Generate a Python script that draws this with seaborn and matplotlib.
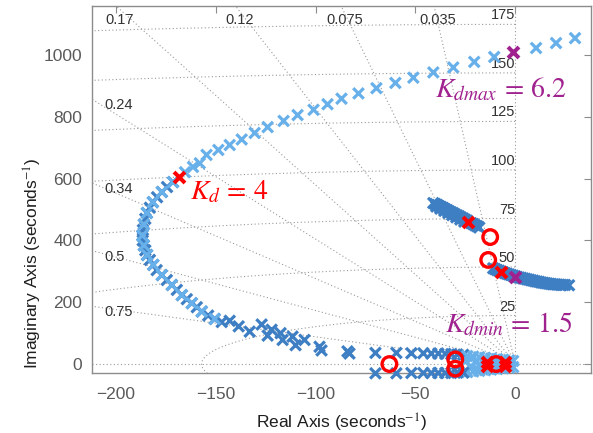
import numpy as np
import pandas as pd
import matplotlib
matplotlib.use("Agg")
import matplotlib.pyplot as plt
import seaborn as sns

# ---- root locus poles (real, imaginary) in seconds^-1 ----
# upper branch sweeping up to the right
arc_re = [30, 20.5, 10.5, -10.5, -20.5, -31, -41, -51, -60, -69.5, -78.5, -87, -94,
          -101, -109, -116, -124, -130.5, -137, -143, -148.7, -154.6, -158, -161.4, -165.4]
arc_im = [1055, 1039, 1023, 994, 978, 960, 944, 927, 910, 893, 876, 859, 841,
          823, 806, 787, 767, 748, 727, 709, 693, 677, 650, 638, 621]

# bend of the branch on the left
bend_re = [-171.4, -174.4, -177, -179.4, -181.5, -183, -184.5, -185.3, -186, -186.5, -186.8,
           -186.6, -186, -185.3, -184.4, -183, -181.3, -179.6, -177, -174.5, -172, -169.5,
           -167, -164.5, -162, -159.5, -157, -153.8, -150.5, -147]
bend_im = [589, 573, 557, 540, 524, 506, 489, 470, 452, 434, 416,
           400, 384, 368, 353, 337, 321, 304, 288, 272, 256, 240,
           223, 210, 197, 184, 170, 157, 146, 136]

# tail approaching the real axis
tail_re = [-143, -138.5, -133, -127, -122, -117.5, -124, -116.5, -111.5, -110, -105.5,
           -98, -97, -84, -83, -70, -59.5, -52, -46, -42, -38.5, -35, -32, -29, -26]
tail_im = [140, 122, 105, 128, 111, 100, 92, 78, 89, 61, 78,
           56, 44, 41, 34, 36, 36, 35, 35, 34, 34, 33, 32, 31, 30]

# conjugate poles just below the real axis
low_re = [-70, -59.5, -52, -46, -42, -38.5, -35, -32, -29, -26]
low_im = [-30, -30, -29, -29, -29, -29, -29, -29, -28, -28]

# dense cloud of poles hugging the real axis
band_re = [-24, -21, -18, -15, -12, -9, -6, -3, -1, -25, -20, -16, -11, -7, -3,
           -24, -21, -18, -15, -12, -9, -6, -3, -1, -22, -17, -13, -8, -4]
band_im = [26, 24, 22, 20, 18, 16, 14, 12, 10, 8, 7, 6, 5, 4, 3,
           -26, -24, -22, -20, -18, -16, -14, -12, -10, -8, -7, -6, -5, -4]

# short branch near 80 Hz
mid_re = [-41, -40, -39, -38, -37, -36, -35, -34, -33, -32, -31, -30, -29, -28, -27, -26,
          -25, -24, -22, -21, -20, -19, -18, -39.5, -37.5, -35.5, -33.5, -31.5, -29.5,
          -27.5, -25.5]
mid_im = [521, 518, 515, 511, 508, 505, 501, 498, 494, 491, 488, 484, 481, 478, 474, 471,
          467, 464, 456, 453, 449, 446, 442, 510, 503, 496, 489, 482, 475,
          468, 461]

# branch crossing the imaginary axis near 45 Hz
cross_re = [-11, -10, -9, -8, -7, -6, -5, -4, -3, -2, -1, 0, 1, 2, 3, 4, 5, 6, 7, 8, 9, 10,
            11, 12, 13, 14, 15, 16, 17, 18, 19, 20, 21, 22, 23, 24, 25, 27]
cross_im = [310, 307, 304, 302, 299, 297, 294, 292, 290, 288, 286, 284, 282, 280, 279, 277,
            276, 274, 273, 271, 270, 268, 267, 266, 264, 263, 262, 261, 260, 259, 258, 258,
            257, 257, 256, 256, 256, 255]

# highlighted poles and zeros
red_x_re = [-168.4, -23.6, -7, -14, -14, -5, -5]
red_x_im = [607, 460, 298, 6, -6, 6, -6]
purple_x_re = [-1, 0]
purple_x_im = [1010, 282]
zero_re = [-12.5, -13.5, -63, -30, -30, -9.5]
zero_im = [411, 337, 0, 15, -15, 0]

# s-plane grid: damping ratios and natural frequencies (Hz)
zetas = [0.035, 0.075, 0.12, 0.17, 0.24, 0.34, 0.5, 0.75]
zeta_labels = ["0.035", "0.075", "0.12", "0.17", "0.24", "0.34", "0.5", "0.75"]
freqs_hz = [25, 50, 75, 100, 125, 150, 175]

LIGHT = "#68B0EA"
DARK = "#3E7FC4"
RED = "#FF0000"
PURPLE = "#A0228F"

sns.set_style("white")
plt.rcParams["font.family"] = ["Liberation Sans", "DejaVu Sans"]
plt.rcParams["mathtext.fontset"] = "stix"

xlim = (-212, 38)
ylim = (-29, 1159)

fig = plt.figure(figsize=(5.93, 4.33), dpi=100)
ax = fig.add_axes([92 / 593, 60 / 433, 499 / 593, 367 / 433])
ax.set_xlim(*xlim)
ax.set_ylim(*ylim)

grid_kw = dict(color="#9a9a9a", lw=0.8, ls=(0, (1, 2.2)), zorder=1)

# damping-ratio rays (upper and lower half plane)
for z in zetas:
    ang = np.arccos(z)
    r = 3000
    ax.plot([0, -r * np.cos(ang)], [0, r * np.sin(ang)], **grid_kw)
    ax.plot([0, -r * np.cos(ang)], [0, -r * np.sin(ang)], **grid_kw)
# natural-frequency arcs
th = np.linspace(np.pi / 2, 3 * np.pi / 2, 2000)
for f in freqs_hz:
    wn = 2 * np.pi * f
    ax.plot(wn * np.cos(th), wn * np.sin(th), **grid_kw)
ax.axhline(0, **grid_kw)
ax.axvline(0, **grid_kw)

# grid labels
lab_kw = dict(fontsize=10.5, color="#333333", zorder=2)
for z, lab in zip(zetas, zeta_labels):
    slope = np.tan(np.arccos(z))
    if -ylim[1] / slope > xlim[0] + 8:
        ax.text(-ylim[1] / slope + 2, 1113, lab, ha="center", va="center", **lab_kw)
    else:
        ax.text(-206, -xlim[0] * slope - 20, lab, ha="left", va="center", **lab_kw)
for f in freqs_hz:
    ax.text(0, 2 * np.pi * f + 29, str(f), ha="right", va="center", **lab_kw)

# locus points
pts = pd.concat([
    pd.DataFrame({"re": arc_re, "im": arc_im, "shade": "light"}),
    pd.DataFrame({"re": bend_re, "im": bend_im, "shade": "dark"}),
    pd.DataFrame({"re": bend_re[::2], "im": bend_im[::2], "shade": "light"}),
    pd.DataFrame({"re": tail_re, "im": tail_im, "shade": "dark"}),
    pd.DataFrame({"re": band_re, "im": band_im, "shade": "light"}),
    pd.DataFrame({"re": low_re, "im": low_im, "shade": "dark"}),
    pd.DataFrame({"re": mid_re, "im": mid_im, "shade": "dark"}),
    pd.DataFrame({"re": cross_re, "im": cross_im, "shade": "dark"}),
], ignore_index=True)

sns.scatterplot(data=pts, x="re", y="im", hue="shade",
                palette={"light": LIGHT, "dark": DARK}, marker="x", s=58,
                linewidth=2.3, legend=False, ax=ax, clip_on=False, zorder=3)

sns.scatterplot(x=red_x_re, y=red_x_im, color=RED, marker="x", s=62,
                linewidth=2.9, ax=ax, clip_on=False, zorder=5)
sns.scatterplot(x=purple_x_re, y=purple_x_im, color=PURPLE, marker="x", s=62,
                linewidth=2.9, ax=ax, clip_on=False, zorder=5)
ax.scatter(zero_re, zero_im, s=110, facecolors="none", edgecolors=RED,
           linewidths=2.4, clip_on=False, zorder=5)

# gain annotations
ann_kw = dict(fontsize=20, va="center", ha="left", zorder=6)
ax.text(-163, 557, r"$K_d\,=\,4$", color=RED, **ann_kw)
ax.text(-40, 887, r"$K_{dmax}\,=\,6.2$", color=PURPLE, **ann_kw)
ax.text(-35, 129, r"$K_{dmin}\,=\,1.5$", color=PURPLE, **ann_kw)

# axes styling
ax.set_xticks([-200, -150, -100, -50, 0])
ax.set_yticks([0, 200, 400, 600, 800, 1000])
ax.tick_params(direction="in", top=True, right=True, length=5, width=0.8,
               color="#8c8c8c", labelcolor="#5a5a5a", labelsize=12.5, pad=7)
ax.tick_params(axis="x", pad=10)
for sp in ax.spines.values():
    sp.set_color("#8c8c8c")
    sp.set_linewidth(1.0)

ax.set_xlabel(r"Real Axis (seconds$^{-1}$)", fontsize=12.5, color="#1e1e1e")
ax.set_ylabel(r"Imaginary Axis (seconds$^{-1}$)", fontsize=12.5, color="#1e1e1e")
ax.xaxis.set_label_coords(0.5, -0.105)
ax.yaxis.set_label_coords(-0.096, 0.30)

fig.savefig("out.png", dpi=100)
